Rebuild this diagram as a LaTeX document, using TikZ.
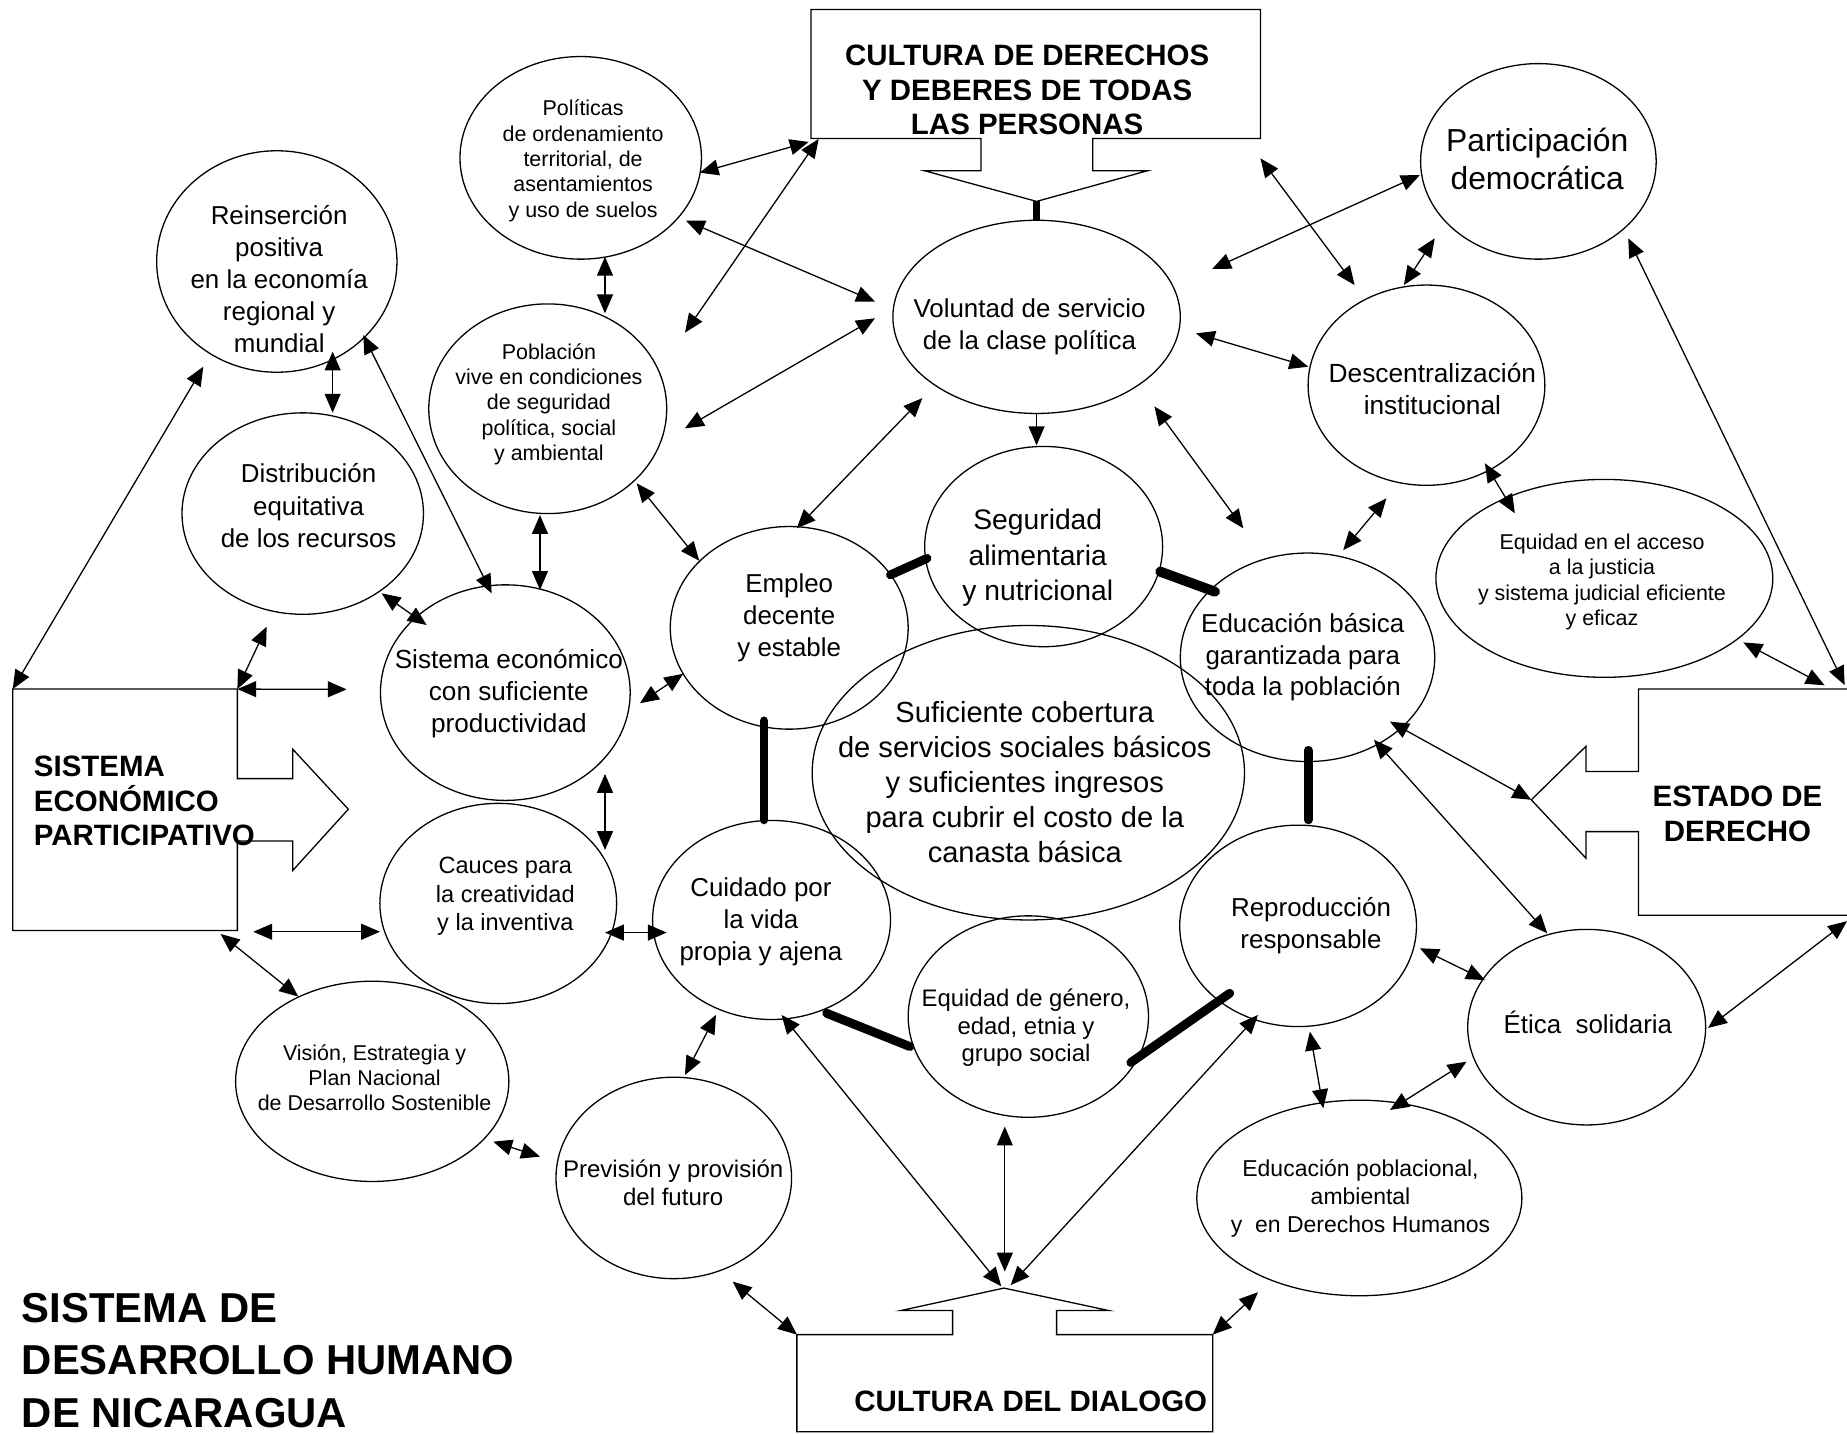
\documentclass[tikz,border=0pt]{standalone}
\usepackage{fontspec}
\setmainfont{Liberation Sans}
\usetikzlibrary{arrows.meta,calc,shapes.geometric}
\newcommand\fsz[2]{\fontsize{#1pt}{#2pt}\selectfont}
\begin{document}
\begin{tikzpicture}[x=1pt,y=-1pt,line width=1.1pt,
  ell/.style={draw,ellipse,inner sep=0pt},
  lbl/.style={inner sep=0pt,align=center},
  dbl/.style={{Triangle[length=16pt,width=13.5pt]}-{Triangle[length=16pt,width=13.5pt]}},
  sgl/.style={-{Triangle[length=16pt,width=13.5pt]}},
  heavy/.style={line width=7.5pt,line cap=round},
  boldtxt/.style={inner sep=0pt,font=\bfseries\fsz{25}{29.5}}]
\clip (0,0) rectangle (1568,1217);
\fill[white] (0,0) rectangle (1568,1217);

% ---------- boxes ----------
\coordinate (tbl) at (688.5,117.5);
\coordinate (tbr) at (1070,117.5);
\coordinate (ttip) at (880,171);
\draw (688.5,8) -- (1070,8) -- (tbr) -- (927.6,117.5) -- (927.6,145) -- (974,145)
  -- (ttip) -- (785,145) -- (832.8,145) -- (832.8,117.5) -- (tbl) -- cycle;
\node[boldtxt,align=center] (cddT) at (872,76.4) {CULTURA DE DERECHOS\\Y DEBERES DE TODAS\\LAS PERSONAS};

\coordinate (lbtl) at (10.8,585);
\coordinate (lbtr) at (201.5,585);
\coordinate (lbbr) at (201.5,790);
\draw (lbtl) -- (lbtr) -- (201.5,661) -- (248.5,661) -- (248.5,636) -- (295.7,687)
  -- (248.5,739) -- (248.5,714) -- (201.5,714) -- (lbbr) -- (10.8,790) -- cycle;
\node[boldtxt,align=left,anchor=west] (sepT) at (28.3,680) {SISTEMA\\ECONÓMICO\\PARTICIPATIVO};

\coordinate (rtip) at (1300,679);
\coordinate (rbtr) at (1568,585);
\coordinate (rbbr) at (1568,777);
\draw (1590,585) -- (1391,585) -- (1391,655) -- (1346.4,655) -- (1346.4,633.5) -- (rtip)
  -- (1346.4,728.6) -- (1346.4,706) -- (1391,706) -- (1391,777) -- (1590,777);
\node[boldtxt,align=center] (edT) at (1475,691) {ESTADO DE\\DERECHO};

\coordinate (bbtl) at (676.5,1133);
\coordinate (bbtr) at (1029.5,1133);
\coordinate (btip) at (852.3,1093.5);
\draw (676.5,1215.5) -- (bbtl) -- (808.7,1133) -- (808.7,1112.6) -- (764.6,1112.6) -- (btip)
  -- (941.5,1112.6) -- (897,1112.6) -- (897,1133) -- (bbtr) -- (1029.5,1215.5) -- cycle;
\node[boldtxt] (cdT) at (875,1190) {CULTURA DEL DIALOGO};

\node[inner sep=0pt,anchor=west,align=left,font=\bfseries\fsz{35.5}{44.5}] (tit) at (18,1155)
  {SISTEMA DE\\DESARROLLO HUMANO\\DE NICARAGUA};

% ---------- ellipses ----------
\node[ell,minimum width=205pt,minimum height=172pt] (pol) at (493,134) {};
\node[ell,minimum width=204pt,minimum height=188pt] (rein) at (235,222) {};
\node[ell,minimum width=205pt,minimum height=171pt] (dist) at (257,436) {};
\node[ell,minimum width=202pt,minimum height=178pt] (pob) at (465,347) {};
\node[ell,minimum width=212pt,minimum height=183pt] (sec) at (429,588) {};
\node[ell,minimum width=201pt,minimum height=170pt] (cau) at (423,767) {};
\node[ell,minimum width=232pt,minimum height=170pt] (vis) at (316,918) {};
\node[ell,minimum width=200pt,minimum height=171pt] (prev) at (572,1000) {};
\node[ell,minimum width=202pt,minimum height=169pt] (cuid) at (655,781) {};
\node[ell,minimum width=202pt,minimum height=172pt] (emp) at (670,533) {};
\node[ell,minimum width=244pt,minimum height=164pt] (vol) at (880,269) {};
\node[ell,minimum width=202pt,minimum height=170pt] (seg) at (886,464) {};
\node[ell,minimum width=367pt,minimum height=250pt] (big) at (873,656) {};
\node[ell,minimum width=216pt,minimum height=177pt] (edb) at (1110,558) {};
\node[ell,minimum width=201pt,minimum height=171pt] (rep) at (1102,786) {};
\node[ell,minimum width=204pt,minimum height=171pt] (eqg) at (873,863) {};
\node[ell,minimum width=276pt,minimum height=166pt] (edp) at (1154,1017) {};
\node[ell,minimum width=202pt,minimum height=166pt] (eti) at (1347,872) {};
\node[ell,minimum width=286pt,minimum height=168pt] (eqj) at (1362,491) {};
\node[ell,minimum width=201pt,minimum height=170pt] (desc) at (1211,327) {};
\node[ell,minimum width=200pt,minimum height=166pt] (part) at (1306,137) {};

% ---------- texts ----------
\node[lbl,font=\fsz{18.2}{21.6}] (polT) at (495,136.5) {Políticas\\de ordenamiento\\territorial, de\\asentamientos\\y uso de suelos};
\node[lbl,font=\fsz{22}{27}] (reinT) at (237,237) {Reinserción\\positiva\\en la economía\\regional y\\mundial};
\node[lbl,font=\fsz{22}{27.6}] (distT) at (262,429.4) {Distribución\\equitativa\\de los recursos};
\node[lbl,font=\fsz{18.2}{21.5}] (pobT) at (466,343) {Población\\vive en condiciones\\de seguridad\\política, social\\y ambiental};
\node[lbl,font=\fsz{22.2}{27.2}] (secT) at (432,589) {Sistema económico\\con suficiente\\productividad};
\node[lbl,font=\fsz{20}{24.2}] (cauT) at (429,761) {Cauces para\\la creatividad\\y la inventiva};
\node[lbl,font=\fsz{18.2}{21}] (visT) at (318,915) {Visión, Estrategia y\\Plan Nacional\\de Desarrollo Sostenible};
\node[lbl,font=\fsz{20.4}{24.2}] (prevT) at (571.5,1004) {Previsión y provisión\\del futuro};
\node[lbl,font=\fsz{22}{26.9}] (cuidT) at (646,782.4) {Cuidado por\\la vida\\propia y ajena};
\node[lbl,font=\fsz{22}{27.5}] (empT) at (670,524.5) {Empleo\\decente\\y estable};
\node[lbl,font=\fsz{22}{26.5}] (volT) at (874,277.5) {Voluntad de servicio\\de la clase política};
\node[lbl,font=\fsz{24}{30.5}] (segT) at (881,473.5) {Seguridad\\alimentaria\\y nutricional};
\node[lbl,font=\fsz{24.7}{29.9}] (bigT) at (870,664) {Suficiente cobertura\\de servicios sociales básicos\\y suficientes ingresos\\para cubrir el costo de la\\canasta básica};
\node[lbl,font=\fsz{22}{27}] (edbT) at (1106,558) {Educación básica\\garantizada para\\toda la población};
\node[lbl,font=\fsz{22}{26.9}] (repT) at (1113,786) {Reproducción\\responsable};
\node[lbl,font=\fsz{20.3}{23.5}] (eqgT) at (871,872.5) {Equidad de género,\\edad, etnia y\\grupo social};
\node[lbl,font=\fsz{19.5}{23.5}] (edpT) at (1155,1017.5) {Educación poblacional,\\ambiental\\y\ \ en Derechos Humanos};
\node[lbl,font=\fsz{22}{27}] (etiT) at (1348,868) {Ética\ \ solidaria};
\node[lbl,font=\fsz{18.2}{21.7}] (eqjT) at (1360,494) {Equidad en el acceso\\a la justicia\\y sistema judicial eficiente\\y eficaz};
\node[lbl,font=\fsz{22.3}{26.8}] (descT) at (1216,330.4) {Descentralización\\institucional};
\node[lbl,font=\fsz{27}{32.6}] (partT) at (1305,135) {Participación\\democrática};

% ---------- thick links ----------
\draw[line width=6.5pt] (ttip) -- (vol.north);
\draw[heavy] ($(emp)+(86,-45)$) -- ($(seg)+(-99,10)$);
\draw[heavy,line width=8.5pt] ($(seg)+(99,21.3)$) -- ($(edb)+(-78.6,-55.7)$);
\draw[heavy] ($(emp)+(-21.4,79)$) -- ($(cuid)+(-6.4,-85)$);
\draw[heavy] ($(edb)+(0.6,79)$) -- ($(rep)+(8.6,-90)$);
\draw[heavy] ($(cuid)+(46.8,79.2)$) -- ($(eqg)+(-100.5,25.5)$);
\draw[heavy] ($(eqg)+(87,39)$) -- ($(rep)+(-58,57.2)$);

% ---------- arrows ----------
\draw[dbl] ($(pol)+(101,12.6)$) -- ($(tbl)+(-2,3)$);
\draw[dbl] ($(pob)+(116.5,-64.6)$) -- ($(tbl)+(6.5,0.5)$);
\draw[dbl] ($(pol)+(89.3,53.3)$) -- ($(vol)+(-137.2,-13)$);
\draw[dbl] ($(pob)+(116.5,16.6)$) -- ($(vol)+(-137.2,1.2)$);
\draw[dbl] ($(pol)+(20.6,84)$) -- ($(pob)+(48.6,-81)$);
\draw[dbl] ($(rein)+(47.4,76.5)$) -- ($(dist)+(25.4,-85.7)$);
\draw[dbl] ($(rein)+(73.4,62.4)$) -- ($(sec)+(-11.6,-84.3)$);
\draw[dbl] ($(pob)+(-6.6,90.2)$) -- ($(sec)+(29.4,-87.2)$);
\draw[dbl] ($(dist)+(67,67.7)$) -- ($(sec)+(-66.8,-57.4)$);
\draw[dbl] ($(pob)+(75.5,63.3)$) -- ($(emp)+(-76.4,-57)$);
\draw[dbl] ($(emp)+(6.3,-84.5)$) -- ($(vol)+(-97,69)$);
\draw[dbl] ($(sec)+(114.3,9)$) -- ($(emp)+(-90,39)$);
\draw[dbl] (lbtl) -- ($(rein)+(-62.4,89.3)$);
\draw[dbl] (lbtr) -- ($(dist)+(-30.6,96)$);
\draw[dbl] (lbtr) -- ($(sec)+(-134.7,-2.8)$);
\draw[dbl] ($(sec)+(84.6,69)$) -- ($(cau)+(90.6,-45.4)$);
\draw[dbl] ($(lbbr)+(13.5,1)$) -- ($(cau)+(-100.4,24)$);
\draw[dbl] ($(lbbr)+(-14.2,2.9)$) -- ($(vis)+(-62.8,-72)$);
\draw[dbl] ($(cau)+(90.6,24.7)$) -- ($(cuid)+(-89,10.7)$);
\draw[dbl] ($(vis)+(102.8,51.2)$) -- ($(prev)+(-113.6,-18.1)$);
\draw[dbl] ($(cuid)+(-47.2,80.6)$) -- ($(prev)+(9.5,-87.4)$);
\draw[dbl] ($(prev)+(50,88)$) -- (bbtl);
\draw[dbl] ($(cuid)+(8.5,80.6)$) -- ($(btip)+(-2.3,-1.5)$);
\draw[dbl] ($(eqg)+(-20,93.4)$) -- ($(btip)+(0.7,-14)$);
\draw[dbl] ($(rep)+(-34,75.6)$) -- ($(btip)+(5.7,-2.5)$);
\draw[dbl] ($(edp)+(-86,80)$) -- (bbtr);
\draw[dbl] ($(rep)+(10,89.8)$) -- ($(edp)+(-30.6,-76.2)$);
\draw[dbl] ($(eti)+(-102,29.3)$) -- ($(edp)+(26,-74.7)$);
\draw[dbl] ($(rep)+(103.4,19)$) -- ($(eti)+(-86.4,-40)$);
\draw[dbl] ($(edb)+(56.4,70)$) -- ($(eti)+(-33.5,-79.7)$);
\draw[dbl] ($(edb)+(70,54.6)$) -- (rtip);
\draw[dbl] ($(eti)+(103,0.7)$) -- ($(rbbr)+(0,5)$);
\draw[dbl] ($(eqj)+(118,54.4)$) -- ($(rbtr)+(-19,-3.2)$);
\draw[dbl] ($(part)+(76.3,65.3)$) -- ($(rbtr)+(-2,-3.4)$);
\draw[dbl] ($(edb)+(30.3,-91)$) -- ($(desc)+(-34,96)$);
\draw[dbl] ($(desc)+(49.6,66.3)$) -- ($(eqj)+(-76,-55.3)$);
\draw[dbl] ($(vol)+(100,76)$) -- ($(edb)+(-54.5,-109.5)$);
\draw[dbl] ($(vol)+(135.3,14)$) -- ($(desc)+(-100.4,-15.7)$);
\draw[dbl] ($(part)+(-100.6,11.6)$) -- ($(vol)+(149,-40.6)$);
\draw[dbl] ($(tbr)+(0,16.9)$) -- ($(desc)+(-61,-85)$);
\draw[dbl] ($(desc)+(-19.2,-85)$) -- ($(part)+(-88,65.3)$);
\draw[sgl] (vol.south) -- ($(seg)+(-6,-86)$);
\end{tikzpicture}
\end{document}
